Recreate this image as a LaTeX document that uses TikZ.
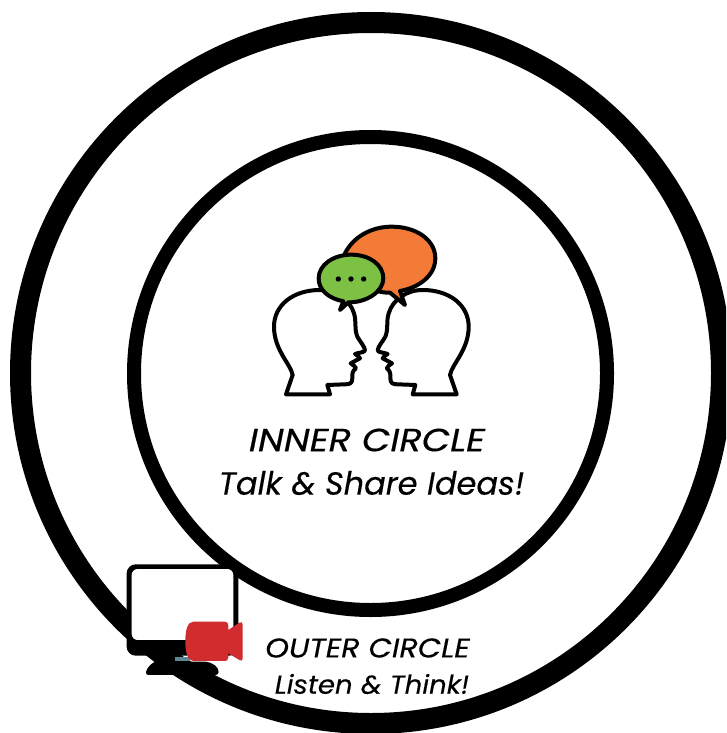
\documentclass[tikz,border=0pt]{standalone}
\usepackage{fontspec}
\setmainfont{Poppins}
\newfontface\fInner[FakeStretch=1.15,FakeBold=0.4]{Poppins Italic}
\newfontface\fTalk[FakeBold=0.3]{Poppins Italic}
\newfontface\fOuter[FakeStretch=1.12,FakeBold=0.4]{Poppins Italic}
\newfontface\fListen[FakeStretch=1.06,FakeBold=0.3]{Poppins Italic}
\definecolor{orangeb}{HTML}{F47B37}
\definecolor{greenb}{HTML}{7CC144}
\definecolor{redcam}{HTML}{D12C2E}
\definecolor{bluebar}{HTML}{5F8593}
\tikzset{
  ring/.style={draw=black,fill=none},
  headline/.style={draw=black,fill=white,line width=4pt,line join=round},
  bubble/.style={draw=black,line width=4pt,line join=round},
  lab/.style={inner sep=0pt,anchor=center}
}
\begin{document}
\begin{tikzpicture}[x=1pt,y=-1pt]
\useasboundingbox (0,0) rectangle (726,733);
\fill[white] (0,0) rectangle (726,733);
\begin{scope}
\clip (0,0) rectangle (726,733);
\draw[ring,line width=21pt] (371,373) circle[radius=350.5];
\draw[ring,line width=14pt] (370.5,373.5) circle[radius=236.5];
\end{scope}
% heads, speech bubbles (zoom coordinates)
\begin{scope}[shift={(250,210)},x=0.3333pt,y=-0.3333pt]
\def\headpath{(108,553) -- (128,495) .. controls (122,462) and (72,420) .. (72,350)
  .. controls (72,285) and (130,240) .. (210,240) .. controls (260,240) and (300,270) .. (312,310)
  .. controls (320,335) and (312,355) .. (322,380) .. controls (330,395) and (345,410) .. (345,422)
  .. controls (340,428) and (325,428) .. (315,432) .. controls (322,436) and (328,440) .. (330,445)
  -- (302,460) .. controls (310,465) and (316,470) .. (318,475)
  .. controls (308,482) and (306,490) .. (307,505) .. controls (307,520) and (300,523) .. (285,523)
  -- (232,525) -- (240,553) -- cycle}
\draw[headline] \headpath;
\draw[headline,xscale=-1,xshift=-242.67pt] \headpath;
\draw[bubble,fill=orangeb] (285,130) .. controls (310,80) and (365,50) .. (425,50)
  .. controls (500,50) and (556,90) .. (556,145) .. controls (556,195) and (510,232) .. (450,243)
  -- (465,285) -- (420,248) .. controls (350,250) and (280,190) .. (285,130) -- cycle;
\draw[bubble,fill=greenb] (303,134) .. controls (360,134) and (400,165) .. (400,205)
  .. controls (400,245) and (350,278) .. (295,277) -- (270,300) -- (280,274)
  .. controls (235,265) and (206,240) .. (206,205) .. controls (206,165) and (250,134) .. (303,134) -- cycle;
\foreach \dx in {265,303,341}
  \fill[black] (\dx,207) circle[radius=8];
\end{scope}
% monitor and camera (zoom coordinates)
\begin{scope}[shift={(110,550)},x=0.3333pt,y=-0.3333pt]
\fill[black] (120,310) -- (190,310) -- (215,335) -- (285,335)
  .. controls (310,337) and (326,352) .. (326,366) .. controls (326,372) and (322,375) .. (316,375)
  -- (116,375) .. controls (110,375) and (107,372) .. (108,366)
  .. controls (112,352) and (122,342) .. (135,335) -- cycle;
\fill[black,rounded corners=9pt] (50,43) rectangle (385,317);
\fill[white,rounded corners=6pt] (65,57) -- (370,57) -- (370,270) -- (65,270) -- cycle;
\fill[bluebar] (195,320) rectangle (240,332);
\fill[redcam] (250,215) -- (345,215) .. controls (352,215) and (355,220) .. (355,228)
  -- (355,240) -- (388,218) .. controls (394,214) and (398,218) .. (398,224)
  -- (398,326) .. controls (398,332) and (393,334) .. (388,330) -- (355,310) -- (355,322)
  .. controls (355,330) and (350,333) .. (345,333) -- (250,333)
  .. controls (232,333) and (226,305) .. (226,274) .. controls (226,243) and (232,215) .. (250,215) -- cycle;
\end{scope}
\node[lab,font=\fInner\fontsize{32}{36}\selectfont] (inner) at (367,440) {INNER CIRCLE};
\node[lab,font=\fTalk\fontsize{32}{36}\selectfont] (talk) at (371.5,483) {Talk \& Share Ideas!};
\node[lab,font=\fOuter\fontsize{27}{31}\selectfont] (outer) at (367.5,648) {OUTER CIRCLE};
\node[lab,font=\fListen\fontsize{26}{30}\selectfont] (listen) at (372,684) {Listen \& Think!};
\end{tikzpicture}
\end{document}
